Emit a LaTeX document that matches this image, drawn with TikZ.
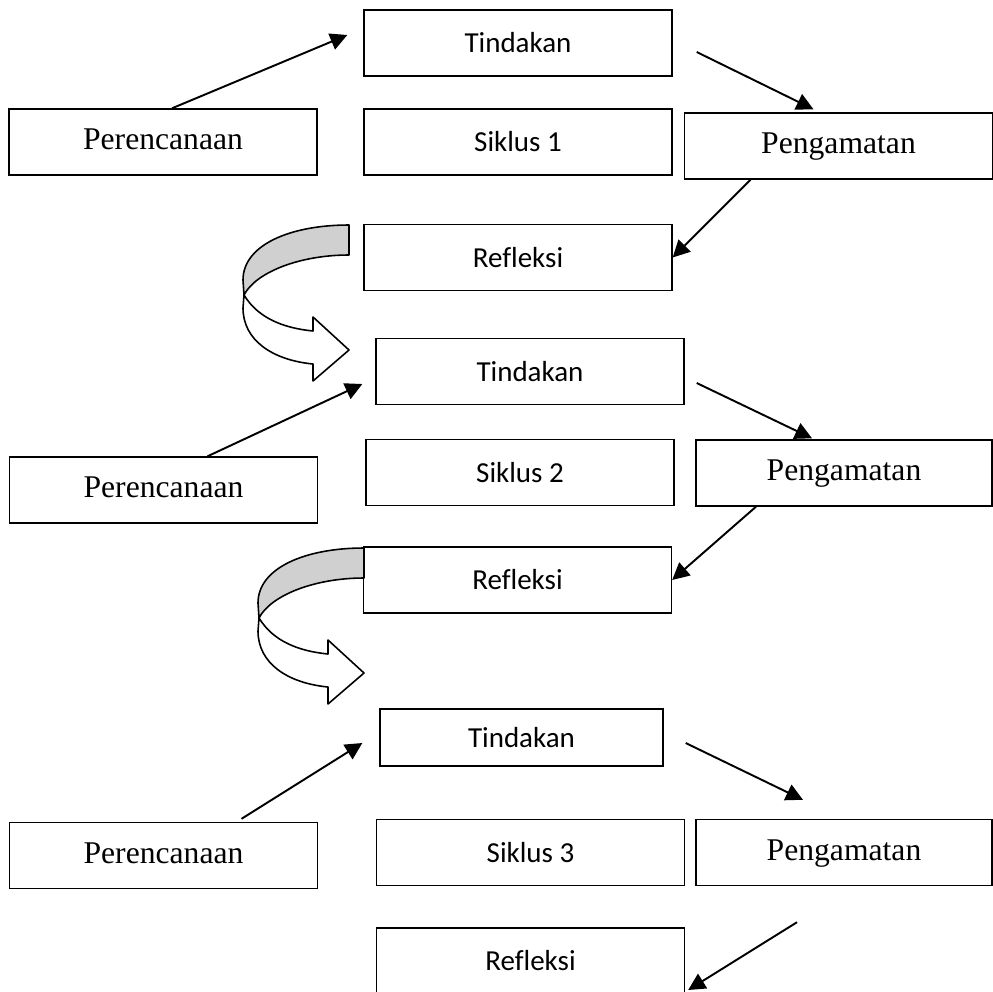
\documentclass[tikz,border=0pt]{standalone}
\usepackage{fontspec}
\usepackage{tikz}
\usetikzlibrary{arrows.meta, positioning, calc}
\newfontfamily\calib[Ligatures=NoCommon]{Carlito}
\newfontfamily\tnr{Liberation Serif}
\definecolor{C_RIB}{HTML}{D0D0D0}
\tikzset{
  %% -- cycle step box (sans text) --
  cyc/act/.style={
    draw, line width=0.8pt, inner sep=0pt,
    minimum width=6.16cm, minimum height=1.32cm,
    font=\calib\fontsize{16.5}{19}\selectfont
  },
  %% -- cycle step box (serif text) --
  cyc/plan/.style={
    draw, line width=0.8pt, inner sep=0pt,
    minimum width=6.16cm, minimum height=1.32cm,
    text height=2.2ex, text depth=0.2ex,
    font=\tnr\fontsize{18}{21}\selectfont
  },
  %% -- connector --
  cyc/arr/.style={-{Triangle[length=0.34cm, width=0.34cm]}, line width=1.1pt},
  %% -- curved ribbon arrow --
  cyc/rib/.style={draw, line width=0.9pt, line join=round},
}

\begin{document}
\begin{tikzpicture}[x=0.02cm, y=-0.02cm]
\useasboundingbox (0, 0) rectangle (993, 991);

%% Siklus 1
\node[cyc/act]  (tin1) at (518, 43)    {Tindakan};
\node[cyc/plan] (per1) at (163, 142)   {Perencanaan};
\node[cyc/act]  (sik1) at (518, 142)   {Siklus 1};
\node[cyc/plan] (pen1) at (838.5, 146) {Pengamatan};
\node[cyc/act]  (ref1) at (518, 257.5) {Refleksi};

%% Siklus 2
\node[cyc/act]  (tin2) at (530, 371.5) {Tindakan};
\node[cyc/plan] (per2) at (163.5, 490) {Perencanaan};
\node[cyc/act]  (sik2) at (520, 472.5) {Siklus 2};
\node[cyc/plan, minimum width=5.92cm] (pen2) at (844, 473) {Pengamatan};
\node[cyc/act]  (ref2) at (517.5, 580) {Refleksi};

%% Siklus 3
\node[cyc/act, minimum width=5.66cm, minimum height=1.14cm]
  (tin3) at (521.5, 737.5) {Tindakan};
\node[cyc/plan] (per3) at (163.5, 855.5) {Perencanaan};
\node[cyc/act]  (sik3) at (530.5, 852.5) {Siklus 3};
\node[cyc/plan, minimum width=5.92cm] (pen3) at (844, 852.5) {Pengamatan};
\node[cyc/act]  (ref3) at (530.5, 961)   {Refleksi};

%% Free arrow ends
\coordinate (in1) at ($(tin1.west)+(-16,-8)$);
\coordinate (ob1) at ($(pen1.north)+(-25,-3)$);
\coordinate (in2) at ($(tin2.west)+(-13,12.5)$);
\coordinate (ob2) at ($(pen2.north)+(-32,-1)$);
\coordinate (in3) at ($(tin3.west)+(-17,5.5)$);
\coordinate (ob3) at ($(pen3.north)+(-41,-19)$);
\coordinate (rf3) at ($(ref3.east)+(3,29)$);

%% Connectors
\draw[cyc/arr] ($(per1.north)+(9,0)$) -- (in1);
\draw[cyc/arr] ($(tin1.east)+(24,9)$) -- (ob1);
\draw[cyc/arr] ($(pen1.south)+(-88,0)$) -- (ref1.east);
\draw[cyc/arr] ($(per2.north)+(44,0)$) -- (in2);
\draw[cyc/arr] ($(tin2.east)+(12,11.5)$) -- (ob2);
\draw[cyc/arr] ($(pen2.south)+(-88,0)$) -- (ref2.east);
\draw[cyc/arr] ($(per3.north)+(78,-3)$) -- (in3);
\draw[cyc/arr] ($(tin3.east)+(22,5.5)$) -- (ob3);
\draw[cyc/arr] ($(pen3.south)+(-47,36)$) -- (rf3);

%% Curved ribbon arrows between cycles
\foreach \dx/\dy in {0/0, 15/323} {
  \begin{scope}[shift={(\dx,\dy)}]
    \path[cyc/rib, fill=C_RIB]
      (349,225) .. controls (290,225) and (243,245) .. (243,280)
      -- (244,295) .. controls (256,272) and (300,255) .. (349,255) -- cycle;
    \path[cyc/rib, fill=white]
      (244,295) .. controls (258,318) and (283,328) .. (313,331)
      -- (313,317) -- (349,350) -- (313,381) -- (313,364)
      .. controls (272,360) and (243,340) .. (243,308) -- cycle;
  \end{scope}
}
\end{tikzpicture}
\end{document}
